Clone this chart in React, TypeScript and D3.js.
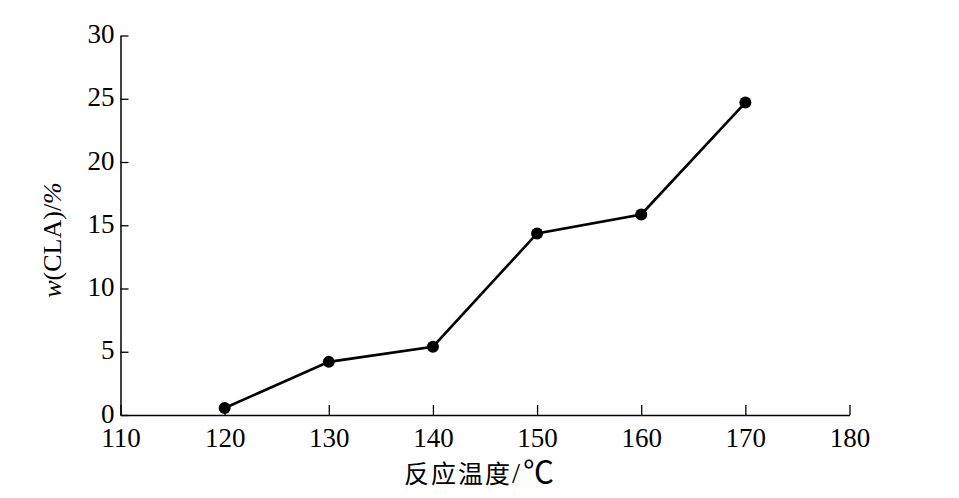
import React, { useEffect, useRef } from 'react';
import * as d3 from 'd3';

const temps = [120, 130, 140, 150, 160, 170];
const claValues = [0.55, 4.2, 5.4, 14.35, 15.85, 24.7];
const xTicks = [110, 120, 130, 140, 150, 160, 170, 180];
const yTicks = [0, 5, 10, 15, 20, 25, 30];

const WIDTH = 959;
const HEIGHT = 498;
const SERIF = '"Liberation Serif", Tinos, serif';
const CJK = '"Noto Sans CJK SC", sans-serif';

export default function App() {
  const svgRef = useRef<SVGSVGElement | null>(null);

  useEffect(() => {
    if (!svgRef.current) return;
    const svg = d3.select(svgRef.current);
    svg.selectAll('*').remove();

    const x = d3.scaleLinear().domain([110, 180]).range([120.5, 849.5]);
    const y = d3.scaleLinear().domain([0, 30]).range([415, 35.5]);

    // x axis, ticks point inward
    const xAxis = d3
      .axisBottom(x)
      .tickValues(xTicks)
      .tickSizeInner(-10)
      .tickSizeOuter(0)
      .tickFormat((d) => String(d));
    const gx = svg.append('g').attr('transform', `translate(0,${y(0)})`).call(xAxis);
    gx.attr('font-family', null).attr('font-size', null);
    gx.select('.domain').attr('stroke', '#000').attr('stroke-width', 1.5);
    gx.selectAll('.tick line').attr('stroke', '#000').attr('stroke-width', 1.3);
    gx.selectAll('.tick text')
      .attr('fill', '#000')
      .style('font-family', SERIF)
      .style('font-size', '27px')
      .attr('y', 32)
      .attr('dy', 0);

    // y axis, ticks point inward
    const yAxis = d3
      .axisLeft(y)
      .tickValues(yTicks)
      .tickSizeInner(-8)
      .tickSizeOuter(0)
      .tickFormat((d) => String(d));
    const gy = svg.append('g').attr('transform', `translate(${x(110)},0)`).call(yAxis);
    gy.attr('font-family', null).attr('font-size', null);
    gy.select('.domain').attr('stroke', '#000').attr('stroke-width', 1.5);
    gy.selectAll('.tick line').attr('stroke', '#000').attr('stroke-width', 1.3);
    gy.selectAll('.tick text')
      .attr('fill', '#000')
      .style('font-family', SERIF)
      .style('font-size', '27px')
      .attr('x', -6)
      .attr('dy', '0.26em');

    const pts = temps.map((t, i) => [t, claValues[i]] as [number, number]);
    const line = d3
      .line<[number, number]>()
      .x((d) => x(d[0]))
      .y((d) => y(d[1]));

    svg
      .append('path')
      .datum(pts)
      .attr('d', line)
      .attr('fill', 'none')
      .attr('stroke', '#000')
      .attr('stroke-width', 2.6);

    svg
      .append('g')
      .selectAll('circle')
      .data(pts)
      .enter()
      .append('circle')
      .attr('cx', (d) => x(d[0]))
      .attr('cy', (d) => y(d[1]))
      .attr('r', 6)
      .attr('fill', '#000');

    // x title
    const xt = svg
      .append('text')
      .attr('x', 404)
      .attr('y', 483)
      .attr('fill', '#000');
    xt.append('tspan')
      .style('font-family', CJK)
      .style('font-size', '25px')
      .style('letter-spacing', '2px')
      .text('反应温度');
    xt.append('tspan').style('font-family', SERIF).style('font-size', '29px').text('/');
    xt.append('tspan')
      .attr('dx', 3)
      .style('font-family', `${SERIF}, ${CJK}`)
      .style('font-size', '31px')
      .text('℃');

    const yt = svg
      .append('text')
      .attr('transform', `translate(61,240) rotate(-90)`)
      .attr('text-anchor', 'middle')
      .style('font-size', '26px')
      .style('font-family', SERIF)
      .attr('fill', '#000');
    yt.append('tspan').style('font-style', 'italic').text('w');
    yt.append('tspan').text('(CLA)/');
    yt.append('tspan').style('font-style', 'italic').text('%');
  }, []);

  return (
    <div style={{ position: 'fixed', left: 0, top: 0, width: WIDTH, height: HEIGHT, background: '#fff' }}>
      <svg ref={svgRef} width={WIDTH} height={HEIGHT} style={{ display: 'block' }} />
    </div>
  );
}
